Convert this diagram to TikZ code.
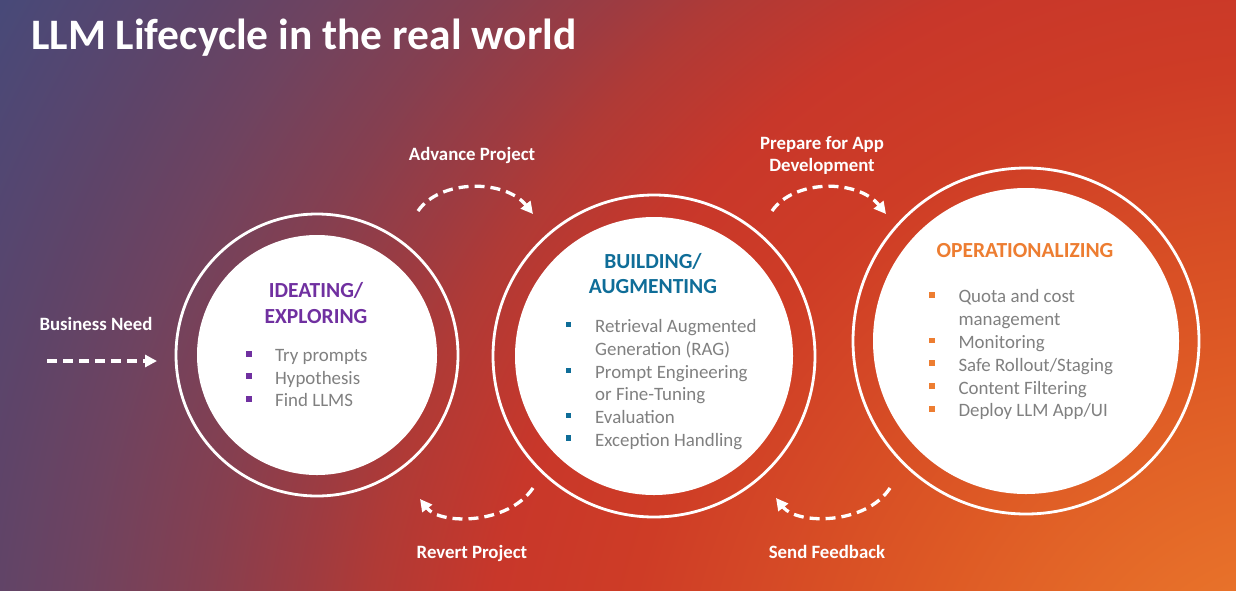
\documentclass[tikz,border=0pt]{standalone}
\usepackage{fontspec}
\setmainfont{Carlito}
\usetikzlibrary{arrows.meta}
\definecolor{bgA}{HTML}{EF7D2C}
\definecolor{bgB}{HTML}{E8722A}
\definecolor{bgC}{HTML}{DE5A25}
\definecolor{bgD}{HTML}{CE3C26}
\definecolor{bgE}{HTML}{C8372A}
\definecolor{bgF}{HTML}{B03A36}
\definecolor{bgG}{HTML}{9F3B40}
\definecolor{bgH}{HTML}{853F50}
\definecolor{bgI}{HTML}{6E4360}
\definecolor{bgJ}{HTML}{5F4468}
\definecolor{bgK}{HTML}{554670}
\definecolor{bgL}{HTML}{454A7A}
\definecolor{ideapurple}{HTML}{7030A0}
\definecolor{buildblue}{HTML}{0F6D98}
\definecolor{oporange}{HTML}{ED7D31}
\definecolor{itemgray}{HTML}{808080}
\pgfdeclareradialshading{bgshade}{\pgfpoint{0bp}{0bp}}{%
color(0bp)=(bgA); color(2.75bp)=(bgB); color(6.5bp)=(bgC); color(11.25bp)=(bgD);
color(13.5bp)=(bgE); color(15.5bp)=(bgF); color(16.5bp)=(bgG); color(18.25bp)=(bgH);
color(20.25bp)=(bgI); color(21.75bp)=(bgJ); color(23bp)=(bgK); color(25bp)=(bgL);
color(50bp)=(bgL)}
\tikzset{
  lbl/.style={text=white, font=\bfseries\fontsize{18.8}{22}\selectfont, inner sep=0pt, anchor=base},
  ttl/.style={font=\bfseries\fontsize{21.5}{25}\selectfont, inner sep=0pt, anchor=base},
  itm/.style={text=itemgray, font=\fontsize{18.9}{22}\selectfont, inner sep=0pt, anchor=base west},
  sq/.style={rectangle, inner sep=0pt, minimum size=5.6pt, draw=none},
  ring/.style={draw=white, line width=2.8pt},
  disc/.style={fill=white},
  flow/.style={draw=white, line width=3.3pt, dash pattern=on 10pt off 6pt, -{Triangle[length=12pt,width=12pt]}}
}
\begin{document}
\begin{tikzpicture}[x=1pt,y=-1pt]
\useasboundingbox (0,0) rectangle (1236,590);
\begin{scope}
\clip (0,0) rectangle (1236,590);
\shade[shading=bgshade] (1300,750) circle[radius=1520];
\end{scope}

% title
\node[text=white, font=\bfseries\fontsize{43.5}{50}\selectfont, inner sep=0pt, anchor=base west] (title) at (31,49.3) {LLM Lifecycle in the real world};

% circles
\coordinate (c1) at (317,355);
\coordinate (c2) at (654,356);
\coordinate (c3) at (1026,341);
\draw[ring] (c1) circle[radius=141];
\fill[disc] (c1) circle[radius=120];
\draw[ring] (c2) circle[radius=161];
\fill[disc] (c2) circle[radius=139];
\draw[ring] (c3) circle[radius=173];
\fill[disc] (c3) circle[radius=153];

% circle 1
\node[ttl, text=ideapurple] (t1a) at (316,297) {IDEATING/};
\node[ttl, text=ideapurple] (t1b) at (316,323.3) {EXPLORING};
\node[sq, fill=ideapurple] (b1a) at (249,353.7) {};
\node[itm] (i1a) at (275,361.7) {Try prompts};
\node[sq, fill=ideapurple] (b1b) at (249,376.2) {};
\node[itm] (i1b) at (275,384.2) {Hypothesis};
\node[sq, fill=ideapurple] (b1c) at (249,398.7) {};
\node[itm] (i1c) at (275,406.7) {Find LLMS};

% circle 2
\node[ttl, text=buildblue] (t2a) at (653,268.3) {BUILDING/};
\node[ttl, text=buildblue] (t2b) at (653,293.3) {AUGMENTING};
\node[sq, fill=buildblue] (b2a) at (568.5,324.3) {};
\node[itm] (i2a) at (595,332.3) {Retrieval Augmented};
\node[itm] (i2a2) at (595,355) {Generation (RAG)};
\node[sq, fill=buildblue] (b2b) at (568.5,370.3) {};
\node[itm] (i2b) at (595,378.3) {Prompt Engineering};
\node[itm] (i2b2) at (595,400.7) {or Fine-Tuning};
\node[sq, fill=buildblue] (b2c) at (568.5,415.3) {};
\node[itm] (i2c) at (595,423.3) {Evaluation};
\node[sq, fill=buildblue] (b2d) at (568.5,438) {};
\node[itm] (i2d) at (595,446) {Exception Handling};

% circle 3
\node[ttl, text=oporange] (t3) at (1025,257) {OPERATIONALIZING};
\node[sq, fill=oporange] (b3a) at (931.7,294.7) {};
\node[itm] (i3a) at (958.3,302.7) {Quota and cost};
\node[itm] (i3a2) at (958.3,325.7) {management};
\node[sq, fill=oporange] (b3b) at (931.7,340.3) {};
\node[itm] (i3b) at (958.3,348.3) {Monitoring};
\node[sq, fill=oporange] (b3c) at (931.7,363) {};
\node[itm] (i3c) at (958.3,371) {Safe Rollout/Staging};
\node[sq, fill=oporange] (b3d) at (931.7,386) {};
\node[itm] (i3d) at (958.3,394) {Content Filtering};
\node[sq, fill=oporange] (b3e) at (931.7,408.7) {};
\node[itm] (i3e) at (958.3,416.7) {Deploy LLM App/UI};

% labels
\node[lbl] (need) at (96,330.7) {Business Need};
\node[lbl] (adv) at (472,160.7) {Advance Project};
\node[lbl] (prep1) at (822,149) {Prepare for App};
\node[lbl] (prep2) at (822,171.7) {Development};
\node[lbl] (rev) at (472,558.3) {Revert Project};
\node[lbl] (fb) at (827,558.3) {Send Feedback};

% arrows
\coordinate (needS) at (47,361);
\coordinate (needE) at (157,361);
\draw[flow] (needS) -- (needE);
\coordinate (advS) at (418,211);
\coordinate (advE) at (533,214);
\draw[flow] (advS) .. controls (440,179) and (505,179) .. (advE);
\coordinate (prepS) at (772,211);
\coordinate (prepE) at (886,214);
\draw[flow] (prepS) .. controls (794,179) and (858,179) .. (prepE);
\coordinate (revS) at (533,488);
\coordinate (revE) at (420,499);
\draw[flow] (revS) .. controls (508,525) and (440,525) .. (revE);
\coordinate (fbS) at (890,488);
\coordinate (fbE) at (776,498);
\draw[flow] (fbS) .. controls (866,525) and (797,525) .. (fbE);
\end{tikzpicture}
\end{document}
